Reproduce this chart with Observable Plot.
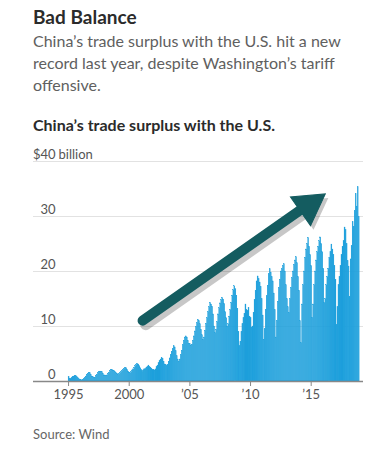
<!DOCTYPE html>
<html>
<head>
<meta charset="utf-8">
<script src="https://cdn.jsdelivr.net/npm/d3@7"></script>
<script src="https://cdn.jsdelivr.net/npm/@observablehq/plot@0.6"></script>
<style>
  html, body { margin: 0; padding: 0; background: #fff; }
  body { width: 376px; height: 455px; overflow: hidden; font-family: Lato, "Noto Sans", sans-serif; }
  .title { margin: 5px 0 0 33px; font-size: 19px; line-height: 24px; font-weight: 700; color: #2b2b2b; }
  .subtitle { margin: 1px 0 0 33px; font-size: 16px; line-height: 22px; color: #606060; }
  .ctitle { margin: 19px 0 0 33px; font-size: 16px; line-height: 20px; font-weight: 700; color: #2b2b2b; }
  #chart { margin-top: 9px; height: 267px; }
  .source { margin: 15px 0 0 33px; font-size: 13px; line-height: 16px; color: #666; }
</style>
</head>
<body>
<div class="title">Bad Balance</div>
<div class="subtitle">China’s trade surplus with the U.S. hit a new<br>record last year, despite Washington’s tariff<br>offensive.</div>
<div class="ctitle">China’s trade surplus with the U.S.</div>
<div id="chart"></div>
<div class="source">Source: Wind</div>
<script>
// Monthly surplus, $ billion, Jan..Dec for each year starting 1995
const startYear = 1995;
const surplus = [
  0.8,0.5,0.4,0.6,0.8,0.9,1.0,1.0,0.8,0.6,0.4,0.3,        // 1995
  0.3,0.2,0.3,0.4,0.6,0.9,1.2,1.4,1.6,1.5,1.2,0.9,        // 1996
  0.8,0.6,0.7,1.0,1.2,1.5,1.7,1.8,1.8,1.7,1.4,1.1,        // 1997
  1.1,1.0,1.1,1.4,1.6,1.9,2.1,2.1,2.0,1.9,1.7,1.5,        // 1998
  1.4,1.2,1.3,1.5,1.7,1.9,2.1,2.3,2.4,2.4,2.1,1.8,        // 1999
  1.6,1.5,1.7,2.0,2.2,2.5,2.8,3.0,3.2,3.1,2.8,2.4,        // 2000
  2.1,1.8,2.0,2.2,2.3,2.5,2.6,2.9,2.6,2.5,2.3,2.1,        // 2001
  2.1,2.0,2.2,2.6,2.9,3.3,3.7,4.0,4.3,4.1,3.6,3.1,        // 2002
  3.0,2.8,3.0,3.6,4.2,4.8,5.4,5.9,6.4,6.2,5.5,4.6,        // 2003
  4.0,3.6,4.0,4.8,5.6,6.6,7.4,8.0,8.2,8.0,7.4,6.8,        // 2004
  6.8,6.5,6.7,7.4,8.2,9.1,9.9,10.6,11.2,11.0,10.4,9.4,    // 2005
  8.4,7.6,8.0,9.2,10.5,11.5,12.6,13.5,14.3,14.0,13.6,12.2,// 2006
  10.0,8.8,9.4,10.8,12.2,13.3,14.2,14.8,15.2,14.9,14.1,12.6, // 2007
  11.5,10.0,10.4,11.8,13.0,14.3,15.6,16.6,17.3,16.8,15.6,13.2, // 2008
  9.0,6.4,7.2,9.0,10.4,11.5,12.3,14.0,13.0,12.8,13.4,11.8,   // 2009
  11.5,9.8,10.0,12.5,14.8,16.5,18.2,19.1,18.6,18.0,17.2,15.0, // 2010
  12.0,7.6,9.5,13.0,15.5,17.4,19.5,20.4,19.8,19.0,18.2,16.0,  // 2011
  13.0,8.0,11.0,14.5,17.0,18.5,20.0,20.4,21.0,21.3,20.0,17.5, // 2012
  15.0,13.5,12.5,15.0,17.0,18.8,20.0,21.2,22.0,22.6,21.5,19.0, // 2013
  16.5,11.0,7.0,14.0,17.5,20.0,22.5,24.0,25.0,26.1,24.5,23.0,  // 2014
  21.0,11.6,14.0,17.5,20.0,22.0,23.5,24.5,25.5,26.2,25.0,23.5, // 2015
  20.5,14.3,15.0,17.5,19.0,20.5,22.5,23.5,24.9,24.0,23.0,21.0, // 2016
  18.5,10.3,13.5,17.5,19.0,21.0,23.0,24.5,25.5,28.0,27.5,25.0, // 2017
  21.9,20.9,15.4,22.2,24.6,29.0,28.1,31.0,34.1,31.8,35.3,29.9  // 2018
];
const xTickYears = [1995, 2000, 2005, 2010, 2015];
const xTickLabels = ["1995", "2000", "’05", "’10", "’15"];
const yTicks = [0, 10, 20, 30, 40];
const yTickLabels = ["0", "10", "20", "30", "$40"];
// Annotation arrow (decimal year, $ billion)
const arrowTail = [2001.10, 11.06];
const arrowShaftEnd = [2014.45, 31.7];
const arrowHeadCenter = [2014.80, 32.0];

const yearToDate = (y) => new Date(Math.floor(y), 0, 1 + Math.round((y % 1) * 365));
const rows = surplus.map((v, i) => ({
  start: new Date(startYear + Math.floor(i / 12), i % 12, 1),
  end: new Date(startYear + Math.floor(i / 12), i % 12 + 1, 1),
  value: v
}));
const arrowLink = [{x1: yearToDate(arrowTail[0]), y1: arrowTail[1], x2: yearToDate(arrowShaftEnd[0]), y2: arrowShaftEnd[1]}];
const arrowHead = [{x: yearToDate(arrowHeadCenter[0]), y: arrowHeadCenter[1]}];

const font = "Lato, 'Noto Sans', sans-serif";
const arrowColor = "#145c60";
const chart = Plot.plot({
  width: 376,
  height: 267,
  marginLeft: 33,
  marginRight: 13,
  marginTop: 17,
  marginBottom: 30,
  style: {fontFamily: font, fontSize: "13px", color: "#666", background: "#fff"},
  x: {type: "time", domain: [new Date(1992, 1, 10), new Date(2019, 3, 25)]},
  y: {domain: [0, 40]},
  marks: [
    Plot.gridY([10, 20, 30, 40], {stroke: "#e2e2e2", strokeOpacity: 1, strokeWidth: 1}),
    Plot.rectY(rows, {x1: "start", x2: "end", y: "value", fill: "#1fa0dc", inset: 0, stroke: "#1fa0dc", strokeWidth: 0.25}),
    Plot.ruleY([0], {stroke: "#888", strokeWidth: 1.5}),
    Plot.axisX(xTickYears.map(y => new Date(y, 0, 1)), {
      tickSize: 5, tickPadding: 3, stroke: "#888",
      tickFormat: (d) => xTickLabels[xTickYears.indexOf(d.getFullYear())],
      fill: "#555", fontSize: 13
    }),
    Plot.axisY(yTicks, {
      anchor: "left", tickSize: 0, tickPadding: 0, dx: 22, dy: -7, textAnchor: "end",
      tickFormat: (d) => yTickLabels[yTicks.indexOf(d)], fill: "#555", fontSize: 13
    }),
    Plot.text([40], {y: (d) => d, text: () => "billion", frameAnchor: "left", dx: 25, dy: -7, textAnchor: "start", fill: "#555", fontSize: 13}),
    // shadow
    Plot.link(arrowLink, {x1: "x1", y1: "y1", x2: "x2", y2: "y2", stroke: "#000", strokeOpacity: 0.22, strokeWidth: 11, strokeLinecap: "round", dx: 3, dy: 4, ariaLabel: "arrow-shadow"}),
    Plot.dot(arrowHead, {x: "x", y: "y", symbol: "triangle", r: 13, fill: "#000", fillOpacity: 0.22, rotate: 55, dx: 3, dy: 4, ariaLabel: "arrow-shadow"}),
    // arrow
    Plot.link(arrowLink, {x1: "x1", y1: "y1", x2: "x2", y2: "y2", stroke: arrowColor, strokeWidth: 10, strokeLinecap: "round", ariaLabel: "arrow"}),
    Plot.dot(arrowHead, {x: "x", y: "y", symbol: "triangle", r: 13, fill: arrowColor, stroke: arrowColor, strokeWidth: 1, rotate: 55, ariaLabel: "arrow"})
  ]
});
d3.select(chart).selectAll('g[aria-label="arrow-shadow"]').style("filter", "blur(2px)");
document.getElementById("chart").appendChild(chart);
</script>
</body>
</html>
